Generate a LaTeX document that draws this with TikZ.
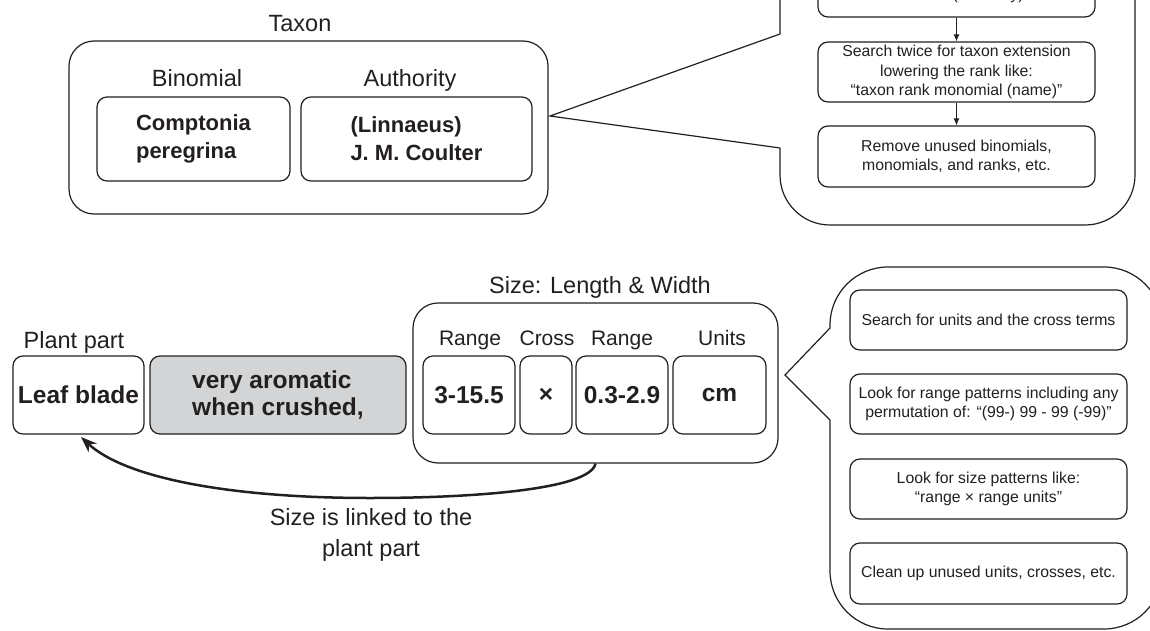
\documentclass[tikz,border=0pt]{standalone}
\usepackage{fontspec}
\setmainfont{Liberation Sans}
\usetikzlibrary{arrows.meta}
\definecolor{ln}{HTML}{231F20}
\definecolor{shade}{RGB}{211,212,214}
\begin{document}
\begin{tikzpicture}[x=1pt,y=-1pt,
  box/.style={draw=ln, line width=1.2pt, rounded corners=10pt, inner sep=0pt, align=center},
  cont/.style={draw=ln, line width=1.2pt},
  lab/.style={font=\fontsize{23.5}{31}\selectfont, text=ln, anchor=base},
  sublab/.style={font=\fontsize{21}{25}\selectfont, text=ln, anchor=base},
  big/.style={font=\bfseries\fontsize{22}{28}\selectfont, text=ln},
  bigger/.style={font=\bfseries\fontsize{24.5}{27}\selectfont, text=ln},
  proc/.style={box, minimum width=277pt, font=\fontsize{15.8}{19.5}\selectfont, text=ln},
  flow/.style={-{Latex[length=7pt,width=6pt]}, draw=ln, line width=1pt}
]
\useasboundingbox (0,0) rectangle (1150,631);
\clip (0,0) rectangle (1150,631);

% ---------- Taxon ----------
\node[lab] (taxonlab) at (300,32) {Taxon};
\node[box, rounded corners=25pt, minimum width=479pt, minimum height=173pt] (taxon) at (308.5,127.5) {};
\node[lab] (binlab) at (197,87) {Binomial};
\node[lab] (authlab) at (410,87) {Authority};
\node[box, big, align=left, minimum width=193pt, minimum height=84pt] (binom) at (193.5,139) {Comptonia\\peregrina};
\node[box, big, align=left, minimum width=231pt, minimum height=84pt] (auth) at (416.5,139) {(Linnaeus)\\J. M. Coulter};

% ---------- top callout ----------
\draw[cont] (780,148) -- (550,116) -- (780,34) [rounded corners=50pt] -- (780,-120) -- (1135,-120) -- (1135,225) -- (780,225) -- (780,148);
\node[proc, minimum height=60pt] (s1) at (956.5,-13) {Search for binomial and authority\\[-3pt]“binomial (authority)”};
\node[proc, minimum height=60pt] (s2) at (956.5,72) {Search twice for taxon extension\\lowering the rank like:\\“taxon rank monomial (name)”};
\node[proc, minimum height=61pt] (s3) at (956.5,156.5) {Remove unused binomials,\\monomials, and ranks, etc.};
\draw[flow] (s1) -- (s2);
\draw[flow] (s2) -- (s3);

% ---------- plant part / size ----------
\node[lab] (pplab) at (74,348) {Plant part};
\node[box, bigger, minimum width=131pt, minimum height=78pt] (leaf) at (78.5,395) {Leaf blade};
\node[box, bigger, fill=shade, align=left, minimum width=256pt, minimum height=78pt] (aroma) at (278,395) {very aromatic\\when crushed,};
\node[lab] (sizelab) at (600,293) {Size: Length \& Width};
\node[box, rounded corners=25pt, minimum width=365pt, minimum height=160pt] (size) at (595.5,383) {};
\node[sublab] (rl1) at (470,345) {Range};
\node[sublab] (cl) at (547,345) {Cross};
\node[sublab] (rl2) at (622,345) {Range};
\node[sublab] (ul) at (722,345) {Units};
\node[box, bigger, minimum width=92pt, minimum height=78pt] (r1) at (469,395) {3-15.5};
\node[box, bigger, minimum width=52pt, minimum height=78pt] (cross) at (546,395) {×};
\node[box, bigger, minimum width=92pt, minimum height=78pt] (r2) at (622,395) {0.3-2.9};
\node[box, bigger, minimum width=93pt, minimum height=78pt] (units) at (719.5,395) {cm};

\coordinate (tipL) at (81,437);
\draw[ln, line width=2.5pt, -{Stealth[length=16pt,width=12pt]}] (size.south) .. controls (590,490) and (470,498) .. (370,498) .. controls (230,498) and (125,478) .. (tipL);
\node[lab, anchor=center, align=center] (linktxt) at (371,535) {Size is linked to the\\plant part};

% ---------- bottom callout ----------
\draw[cont] (830,420) -- (785,375) -- (830,328) [rounded corners=58pt] -- (830,267) -- (1162,267) -- (1162,629) -- (830,629) -- (830,420);
\node[proc, minimum height=60pt] (q1) at (988.5,320) {Search for units and the cross terms};
\node[proc, minimum height=60pt] (q2) at (988.5,404) {Look for range patterns including any\\permutation of: “(99-) 99 - 99 (-99)”};
\node[proc, minimum height=60pt] (q3) at (988.5,489) {Look for size patterns like:\\“range × range units”};
\node[proc, minimum height=61pt] (q4) at (988.5,573.5) {Clean up unused units, crosses, etc.};
\end{tikzpicture}
\end{document}
